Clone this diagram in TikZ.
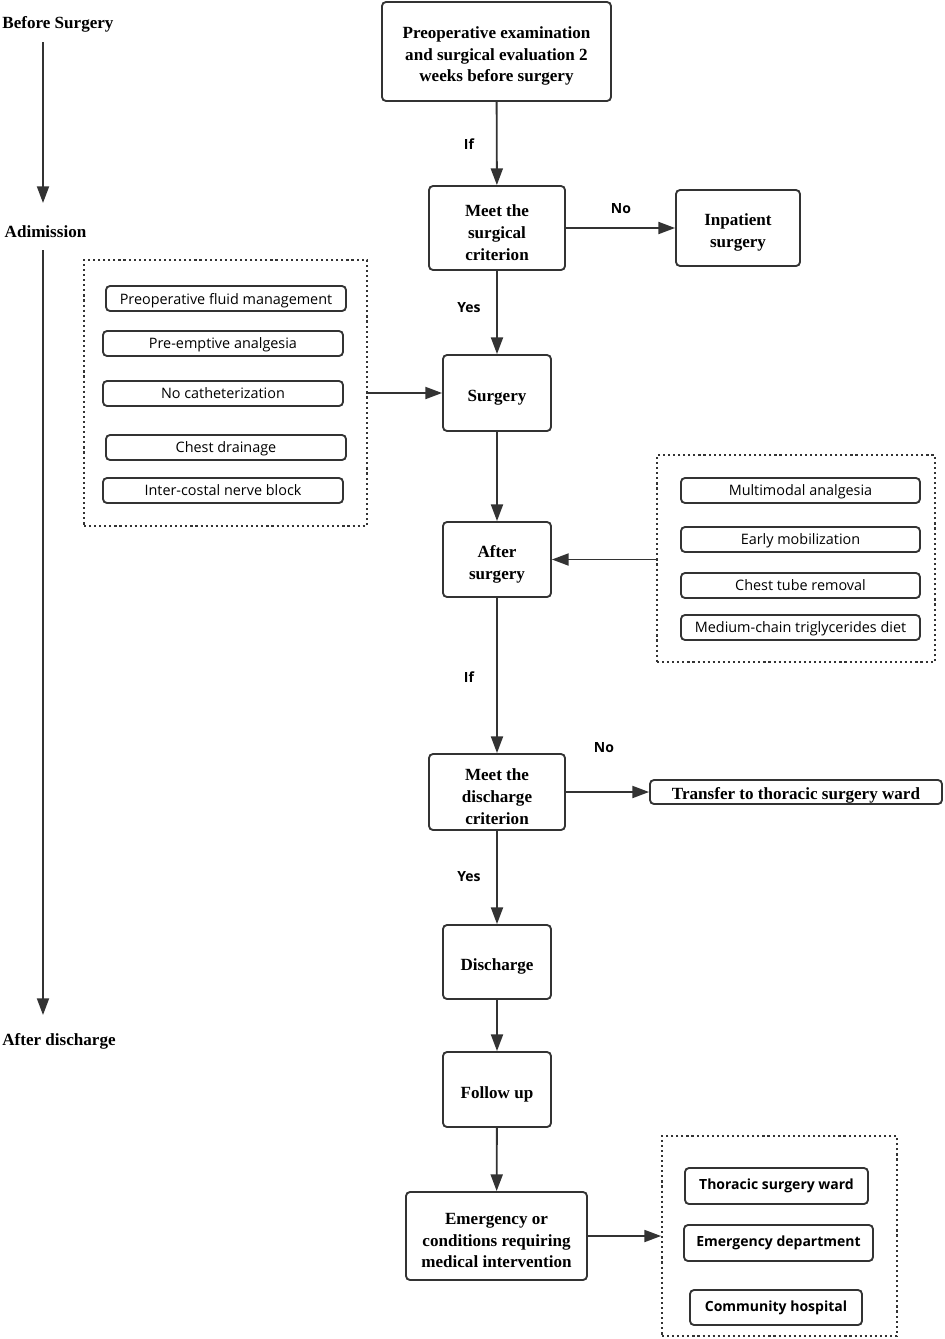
\documentclass[tikz,border=0pt]{standalone}
\usepackage{fontspec}
\setmainfont{Liberation Serif}
\newfontfamily\sansf{Open Sans}
\usetikzlibrary{arrows.meta}
\definecolor{ink}{HTML}{333333}
\begin{document}
\begin{tikzpicture}[x=0.75pt,y=-0.75pt,
  line width=1.4pt, draw=ink,
  main/.style={draw=ink, rounded corners=3pt, inner sep=0pt},
  mtext/.style={align=center, inner sep=0pt, yshift=-3.5pt,
    font=\fontsize{12.8}{16.2}\selectfont\bfseries, text=black},
  item/.style={draw=ink, rounded corners=3pt, align=center, inner sep=0pt,
    minimum height=18.75pt, text depth=0pt,
    font=\sansf\fontsize{10.8}{13}\selectfont, text=black},
  bitem/.style={draw=ink, rounded corners=3pt, align=center, inner sep=0pt,
    font=\sansf\fontsize{10.5}{13}\selectfont\bfseries, text=black},
  dbox/.style={draw=ink, dash pattern=on 1.6pt off 2.2pt, inner sep=0pt},
  lab/.style={font=\sansf\fontsize{10.5}{13}\selectfont\bfseries, text=black, inner sep=0pt},
  tl/.style={font=\fontsize{12.8}{16.2}\selectfont\bfseries, text=black, inner sep=0pt},
  arr/.style={draw=ink, -{Triangle[length=12.5pt,width=9pt]}}]
\useasboundingbox (0,0) rectangle (945,1339);

% timeline
\node[tl] (bs) at (58,24) {Before Surgery};
\node[tl] (adm) at (45.5,232) {Adimission};
\node[tl] (ad) at (59,1041) {After discharge};
\coordinate (t1) at (43,42);
\coordinate (t2) at (43,203);
\coordinate (t3) at (43,250);
\coordinate (t4) at (43,1015);
\draw[arr] (t1) -- (t2);
\draw[arr] (t3) -- (t4);

% main flow
\node[main, minimum width=171.75pt, minimum height=74.25pt,
  label={[mtext]center:{Preoperative examination\\and surgical evaluation 2\\weeks before surgery}}] (pre) at (496.5,51.5) {};
\node[main, minimum width=102pt, minimum height=63pt,
  label={[mtext]center:{Meet the\\surgical\\criterion}}] (msc) at (497,228) {};
\node[main, minimum width=93pt, minimum height=57pt,
  label={[mtext]center:{Inpatient\\surgery}}] (inp) at (738,228) {};
\node[main, minimum width=81pt, minimum height=57pt,
  label={[mtext]center:{Surgery}}] (sur) at (497,393) {};
\node[main, minimum width=81pt, minimum height=56.25pt,
  label={[mtext]center:{After\\surgery}}] (aft) at (497,559.5) {};
\node[main, minimum width=102pt, minimum height=57pt,
  label={[mtext]center:{Meet the\\discharge\\criterion}}] (mdc) at (497,792) {};
\node[main, minimum width=219pt, minimum height=18pt,
  label={[mtext,yshift=1pt]center:{Transfer to thoracic surgery ward}}] (tra) at (796,792) {};
\node[main, minimum width=81pt, minimum height=55.5pt,
  label={[mtext]center:{Discharge}}] (dis) at (497,962) {};
\node[main, minimum width=81pt, minimum height=56.25pt,
  label={[mtext]center:{Follow up}}] (fol) at (497,1089.5) {};
\node[main, minimum width=135.75pt, minimum height=66pt,
  label={[mtext]center:{Emergency or\\conditions requiring\\medical intervention}}] (eme) at (496.5,1236) {};

% left dashed group
\node[dbox, minimum width=212.25pt, minimum height=199.5pt] (lbox) at (225.5,393) {};
\node[item, minimum width=180pt] (l1) at (226,298.5) {Preoperative fluid management};
\node[item, minimum width=180pt] (l2) at (223,343.5) {Pre-emptive analgesia};
\node[item, minimum width=180pt] (l3) at (223,393.5) {No catheterization};
\node[item, minimum width=180pt] (l4) at (226,447.5) {Chest drainage};
\node[item, minimum width=180pt] (l5) at (223,490.5) {Inter-costal nerve block};

% right dashed group
\node[dbox, minimum width=208.5pt, minimum height=155.25pt] (rbox) at (796,558.5) {};
\node[item, minimum width=179.25pt] (r1) at (800.5,490.5) {Multimodal analgesia};
\node[item, minimum width=179.25pt] (r2) at (800.5,539.5) {Early mobilization};
\node[item, minimum width=179.25pt] (r3) at (800.5,585.5) {Chest tube removal};
\node[item, minimum width=179.25pt] (r4) at (800.5,627.5) {Medium-chain triglycerides diet};

% bottom dashed group
\node[dbox, minimum width=176.25pt, minimum height=150pt] (bbox) at (779.5,1236) {};
\node[bitem, minimum width=137.25pt, minimum height=27pt] (b1) at (776.5,1186) {Thoracic surgery ward};
\node[bitem, minimum width=141.75pt, minimum height=27pt] (b2) at (778.5,1243) {Emergency department};
\node[bitem, minimum width=129pt, minimum height=26.25pt] (b3) at (776,1307.5) {Community hospital};

% connectors
\draw[arr] (pre) -- (msc);
\draw[arr] (msc) -- (inp);
\draw[arr] (msc) -- (sur);
\draw[arr] (lbox.east |- sur.west) -- (sur.west);
\draw[arr] (sur) -- (aft);
\draw[arr] (rbox.west |- aft.east) -- (aft.east);
\draw[arr] (aft) -- (mdc);
\draw[arr] (mdc) -- (tra);
\draw[arr] (mdc) -- (dis);
\draw[arr] (dis) -- (fol);
\draw[arr] (fol) -- (eme);
\draw[arr] (eme.east) -- (bbox.west |- eme.east);

% labels
\node[lab] (lif1) at (469,144) {If};
\node[lab] (lno1) at (621,209) {No};
\node[lab] (lyes1) at (469,308) {Yes};
\node[lab] (lif2) at (469,677) {If};
\node[lab] (lno2) at (604,748) {No};
\node[lab] (lyes2) at (469,877) {Yes};
\end{tikzpicture}
\end{document}
